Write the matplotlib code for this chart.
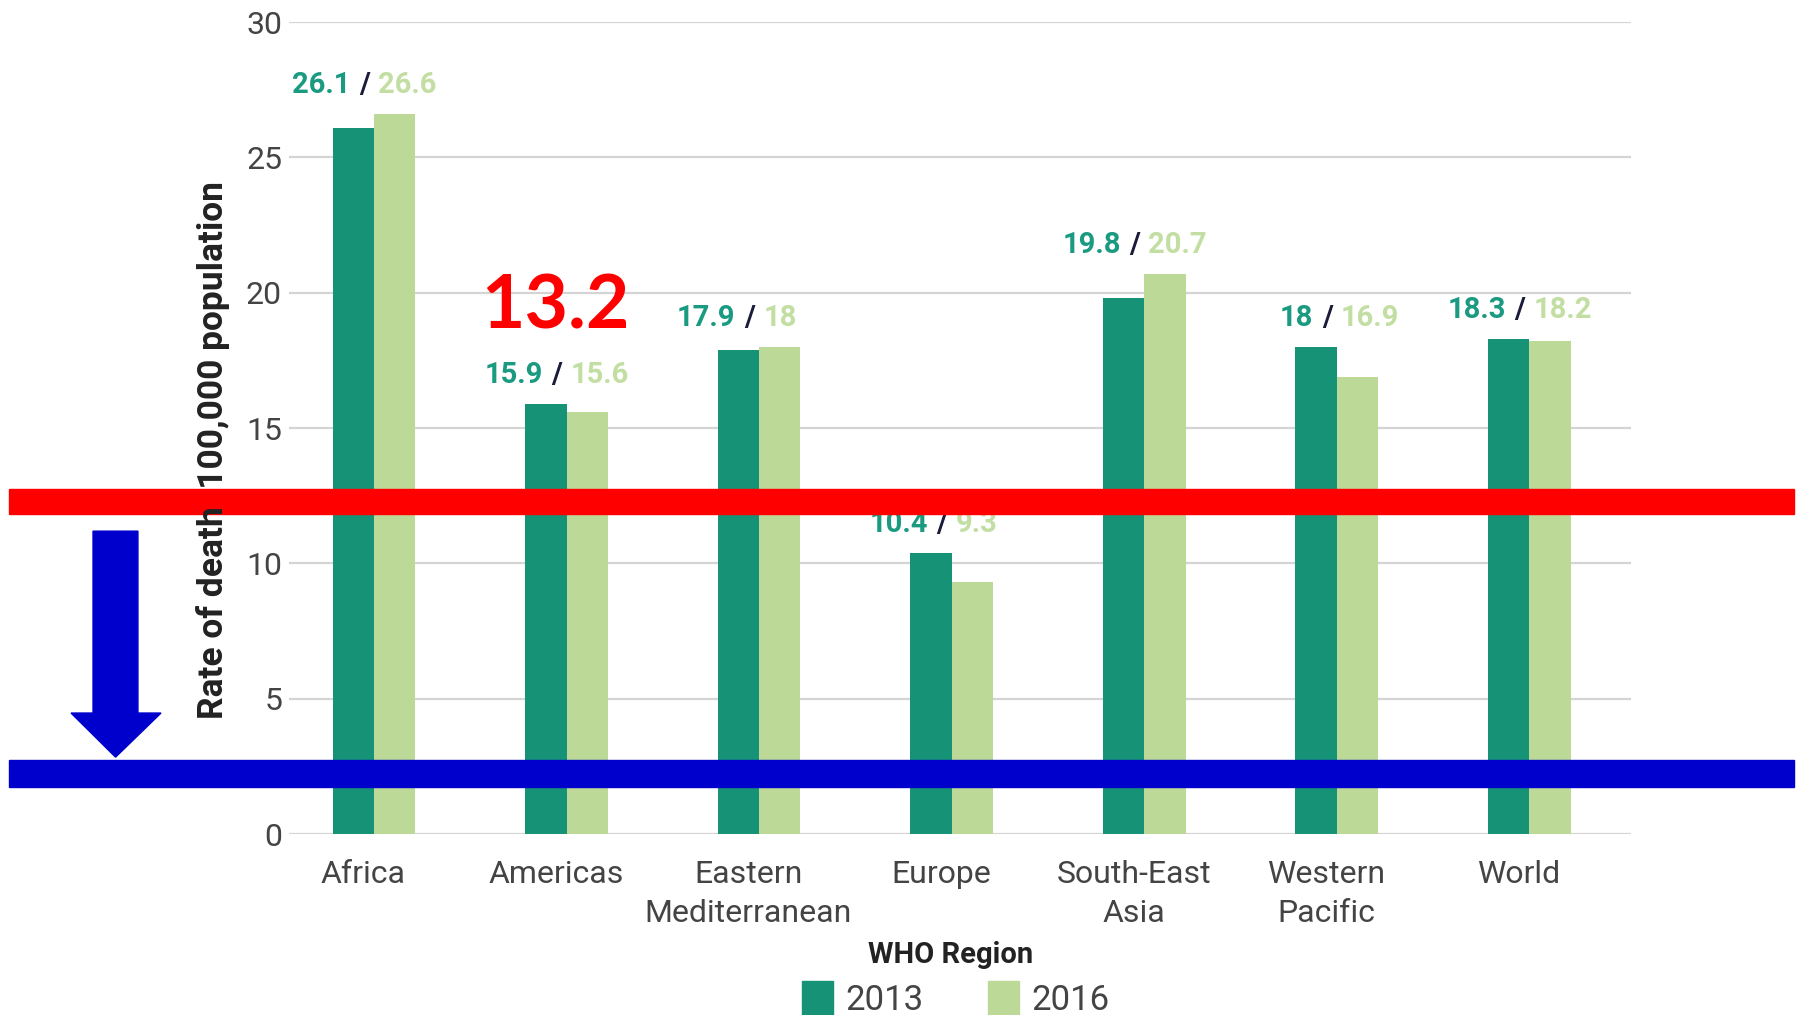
import matplotlib
matplotlib.use("Agg")
import matplotlib.pyplot as plt
import matplotlib.transforms as mtransforms
from matplotlib.patches import Rectangle, Polygon, Patch
import numpy as np


regions = ["Africa", "Americas", "Eastern\nMediterranean", "Europe",
           "South-East\nAsia", "Western\nPacific", "World"]
rate_2013 = [26.1, 15.9, 17.9, 10.4, 19.8, 18, 18.3]
rate_2016 = [26.6, 15.6, 18, 9.3, 20.7, 16.9, 18.2]
label_2013 = ["26.1", "15.9", "17.9", "10.4", "19.8", "18", "18.3"]
label_2016 = ["26.6", "15.6", "18", "9.3", "20.7", "16.9", "18.2"]
years = ["2013", "2016"]
yticks = [0, 5, 10, 15, 20, 25, 30]

DARK = "#169376"
LIGHT = "#bdd998"
DARK_TXT = "#1a9a80"
LIGHT_TXT = "#c3dea2"
TICK = "#444444"


def main():
    plt.rcParams['font.family'] = ['Roboto', 'DejaVu Sans']
    fig = plt.figure(figsize=(18.03, 10.15), dpi=100)
    ax = fig.add_axes([0.1603, 0.1783, 0.7443, 0.8000])

    x = np.arange(len(regions))
    w = 0.215
    ax.bar(x - w / 2, rate_2013, w, color=DARK, zorder=3)
    ax.bar(x + w / 2, rate_2016, w, color=LIGHT, zorder=3)

    ax.set_xlim(-0.441, 6.528)
    ax.set_ylim(0, 30)
    ax.set_yticks(yticks)
    # labels sit a little left of the bar pairs in the original
    ax.set_xticks(x - 0.055)
    ax.set_xticklabels(regions, fontsize=23, color=TICK, linespacing=1.4)
    for t in ax.get_yticklabels():
        t.set_fontsize(23)
        t.set_color(TICK)
    ax.tick_params(axis="both", length=0)
    ax.tick_params(axis="x", pad=19)
    ax.tick_params(axis="y", pad=5)
    ax.grid(axis="y", color="#d4d4d4", linewidth=1.6, zorder=0)
    for s in ax.spines.values():
        s.set_visible(False)

    # value labels "a / b" above each pair
    for i in range(len(regions)):
        top = max(rate_2013[i], rate_2016[i])
        xc = x[i] - 0.05
        ax.annotate("/", (xc, top), xytext=(0, 15), textcoords="offset points",
                    ha="center", va="baseline", fontsize=21, fontweight="bold",
                    color="#1b1b3a", zorder=5)
        ax.annotate(label_2013[i], (xc, top), xytext=(-10, 15),
                    textcoords="offset points", ha="right", va="baseline",
                    fontsize=21, fontweight="bold", color=DARK_TXT, zorder=5)
        ax.annotate(label_2016[i], (xc, top), xytext=(10, 15),
                    textcoords="offset points", ha="left", va="baseline",
                    fontsize=21, fontweight="bold", color=LIGHT_TXT, zorder=5)

    fig.text(213 / 1803, 1 - 450 / 1015, "Rate of death  100,000 population",
             rotation=90, ha="center", va="center", fontsize=25.5,
             fontweight="bold", color="#222222")
    fig.text(0.527, 1 - 955 / 1015, "WHO Region", ha="center",
             va="center", fontsize=21, fontweight="bold", color="#222222")

    handles = [Patch(color=DARK), Patch(color=LIGHT)]
    fig.legend(handles, years, loc="center", bbox_to_anchor=(0.530, 1 - 999 / 1015),
               ncol=2, frameon=False, handlelength=0.9,
               handleheight=1.2, handletextpad=0.35, columnspacing=1.85,
               prop={"size": 25})
    for t in fig.legends[0].get_texts():
        t.set_color(TICK)

    # overlay annotations
    blend = mtransforms.blended_transform_factory(fig.transFigure, ax.transData)
    ax.add_patch(Rectangle((0.005, 11.82), 0.99, 0.92, transform=blend,
                           color="#ff0000", clip_on=False, zorder=10))
    ax.add_patch(Rectangle((0.005, 1.74), 0.99, 0.99, transform=blend,
                           color="#0000cc", clip_on=False, zorder=10))
    arrow = [(0.0516, 11.19), (0.0765, 11.19), (0.0765, 4.47), (0.0893, 4.47),
             (0.0641, 2.84), (0.0394, 4.47), (0.0516, 4.47)]
    ax.add_patch(Polygon(arrow, closed=True, transform=blend, color="#0000cc",
                         clip_on=False, zorder=10))
    ax.text(0.94, 19.47, "13.2", ha="center", va="center", fontsize=54,
            fontweight="bold", color="#ff0000", family=["Lato", "DejaVu Sans"],
            zorder=11)

    fig.savefig("out.png", dpi=100)


if __name__ == '__main__':
    main()
